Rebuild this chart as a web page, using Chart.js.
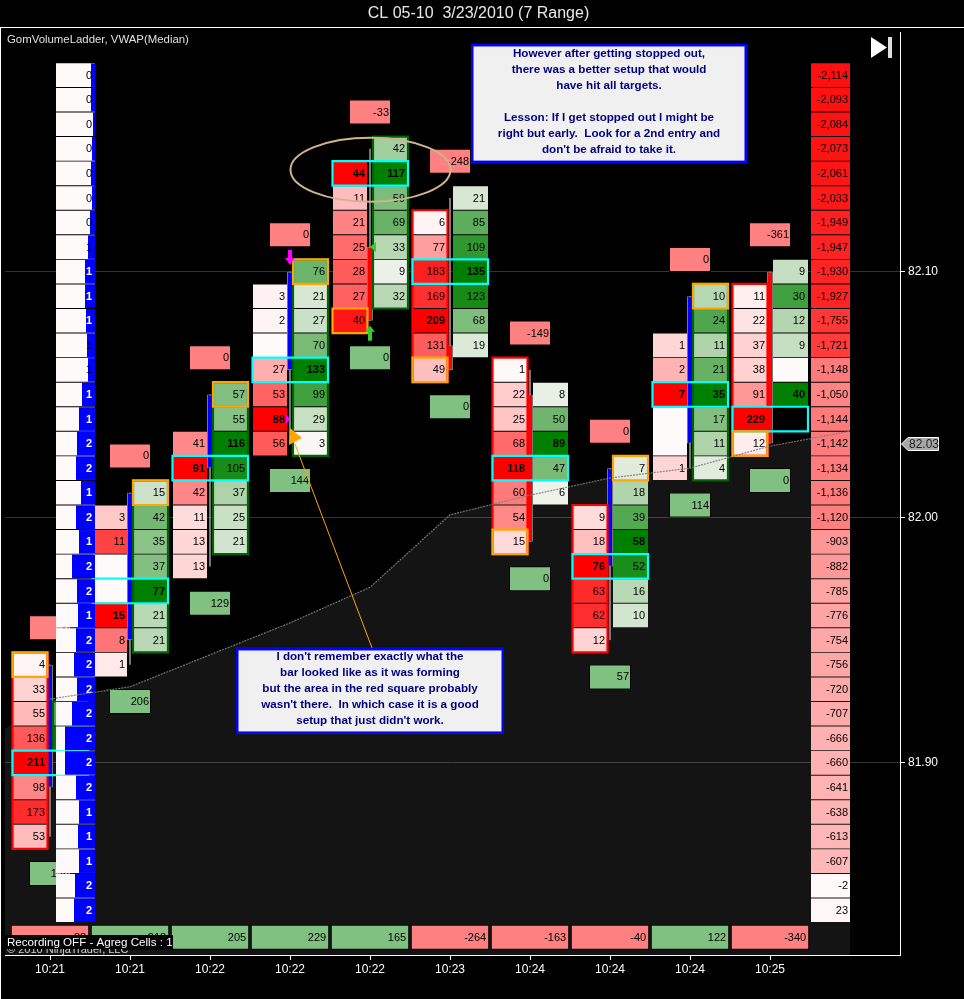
<!DOCTYPE html>
<html>
<head>
<meta charset="utf-8">
<title>CL 05-10 3/23/2010 (7 Range)</title>
<style>
html, body { margin: 0; padding: 0; background: #000; overflow: hidden; }
canvas { display: block; }
</style>
<script src="https://cdn.jsdelivr.net/npm/chart.js@4"></script>
</head>
<body>
<canvas id="out" width="964" height="999"></canvas>
<script>
const barTimes = ["10:21", "10:21", "10:22", "10:22", "10:22", "10:23", "10:24", "10:24", "10:24", "10:25"];
const priceTicks = [82.10, 82.00, 81.90];
const lastPrice = 82.03;

// open / close / high / low per bar
const barOpen = [81.89, 81.95, 82.02, 82.06, 82.11, 82.07, 82.05, 81.98, 82.03, 82.10];
const barClose = [81.94, 82.01, 82.05, 82.10, 82.08, 82.06, 81.99, 82.02, 82.09, 82.03];
const barHigh = [81.94, 82.01, 82.05, 82.10, 82.15, 82.13, 82.06, 82.02, 82.09, 82.10];
const barLow = [81.87, 81.94, 81.98, 82.03, 82.08, 82.06, 81.99, 81.95, 82.02, 82.03];

// volume ladder per bar, first value at the top price of the column, 0 = empty cell
const bidTop = [81.94, 82.00, 82.03, 82.09, 82.14, 82.12, 82.06, 82.00, 82.07, 82.09];
const bidVols = [
    [4, 33, 55, 136, 211, 98, 173, 53],
    [3, 11, 0, 0, 15, 8, 1],
    [41, 91, 42, 11, 13, 13],
    [3, 2, 0, 27, 53, 88, 56],
    [44, 11, 21, 25, 28, 27, 40],
    [6, 77, 183, 169, 209, 131, 49],
    [1, 22, 25, 68, 118, 60, 54, 15],
    [9, 18, 76, 63, 62, 12],
    [1, 2, 7, 0, 0, 1],
    [11, 22, 37, 38, 91, 229, 12]
];
const askTop = [81.92, 82.01, 82.05, 82.10, 82.15, 82.13, 82.05, 82.02, 82.09, 82.10];
const askVols = [
    [120, 180],
    [15, 42, 35, 37, 77, 21, 21],
    [57, 55, 116, 105, 37, 25, 21],
    [76, 21, 27, 70, 133, 99, 29, 3],
    [42, 117, 59, 69, 33, 9, 32],
    [21, 85, 109, 135, 123, 68, 19],
    [8, 50, 89, 47, 6],
    [7, 18, 39, 58, 52, 16, 10],
    [10, 24, 11, 21, 35, 17, 11, 4],
    [9, 30, 12, 9, 0, 40]
];
const pocPrice = [81.90, 81.97, 82.02, 82.06, 82.14, 82.10, 82.02, 81.98, 82.05, 82.04];
const closeSide = ["bid", "ask", "ask", "ask", "bid", "bid", "bid", "ask", "ask", "bid"];
const greenOutlined = [0, 1, 2, 3, 4, 8];
const redOutlined = [0, 5, 6, 7, 9];

// delta boxes above / below each bar and the totals row
const topDelta = [0, 0, 0, 0, -33, -248, -149, 0, 0, -361];
const lowDelta = [136, 206, 129, 144, 0, 0, 0, 57, 114, 0];
const barDelta = [-88, 218, 205, 229, 165, -264, -163, -40, 122, -340];

// left ladder (82.18 down to 81.84)
const ladderTop = 82.18;
const ladderVals = [0, 0, 0, 0, 0, 0, 0, 1, 1, 1, 1, 1, 1, 1, 1, 2, 2, 1, 2, 1, 2, 2, 1, 2, 2, 2, 2, 2, 2, 2, 1, 1, 1, 2, 2];
const ladderDepth = [4, 4, 2, 3, 4, 3, 5, 7, 10, 10, 9, 8, 7, 13, 16, 18, 19, 14, 19, 16, 23, 18, 17, 19, 21, 18, 23, 30, 30, 19, 16, 17, 16, 20, 21];
// right ladder, same prices
const cumDelta = [-2114, -2093, -2084, -2073, -2061, -2033, -1949, -1947, -1930, -1927, -1755, -1721, -1148, -1050, -1144, -1142, -1134, -1136, -1120, -903, -882, -785, -776, -754, -756, -720, -707, -666, -660, -641, -638, -613, -607, -2, 23];

const vwapBars = [-0.5625, 0, 1, 2, 3, 4, 5, 6, 7, 8, 9, 10];
const vwapVals = [81.914, 81.926, 81.931, 81.944, 81.957, 81.9715, 82.001, 82.009, 82.016, 82.020, 82.029, 82.035];

const topNote = ["However after getting stopped out,", "there was a better setup that would", "have hit all targets.", "", "Lesson: If I get stopped out I might be", "right but early.  Look for a 2nd entry and", "don't be afraid to take it."];
const lowNote = ["I don't remember exactly what the", "bar looked like as it was forming", "but the area in the red square probably", "wasn't there.  In which case it is a good", "setup that just didn't work."];

const TICK = 0.01;
const ROW_H = 23.6;
const FONT = '"Liberation Sans"';

function shade(value, max, rgb) {
    const t = max ? Math.min(Math.abs(value) / max, 1) : 0;
    const c = [255, 250, 250].map((b, i) => Math.round(b + (rgb[i] - b) * t));
    return "rgb(" + c.join(",") + ")";
}

function fmt(v) {
    return v.toLocaleString("en-US");
}

// horizontal floating bars, one per item
function rowSet(items, thickness, extra) {
    return Object.assign({
        type: "bar",
        indexAxis: "y",
        grouped: false,
        barThickness: thickness,
        inflateAmount: 0,
        borderSkipped: false,
        borderWidth: 0,
        data: items.map(c => ({ x: [c.from, c.to], y: c.price })),
        backgroundColor: items.map(c => c.fill),
        cellText: items.map(c => c.text || ""),
        cellBold: items.map(c => !!c.bold),
        cellColor: items.map(c => c.color || "#000"),
        textPad: 2
    }, extra);
}

function columnCells(tops, vols, from, to, rgb) {
    const cells = [];
    vols.forEach((list, i) => {
        const max = Math.max(...list);
        list.forEach((v, k) => {
            const price = tops[i] - k * TICK;
            cells.push({ from: i + from, to: i + to, price: price, fill: shade(v, max, rgb), text: v ? String(v) : "", bold: v === max });
            if (v === 0 && list[k + 1] === 0) {
                cells.push({ from: i + from, to: i + to, price: price - TICK / 2, fill: shade(0, max, rgb) });
            }
        });
    });
    return cells;
}

// closed rectangle as a line with gaps, around rows hi..lo
function rectPts(x0, x1, hi, lo) {
    const top = hi + TICK / 2, bot = lo - TICK / 2;
    return [{ x: x0, y: top }, { x: x1, y: top }, { x: x1, y: bot }, { x: x0, y: bot }, { x: x0, y: top }, { x: x1, y: top }, { x: x1, y: null }];
}

function lineSet(points, color, width, extra) {
    return Object.assign({ type: "line", data: points, borderColor: color, borderWidth: width, pointRadius: 0, fill: false, tension: 0, spanGaps: false, borderJoinStyle: "miter", borderCapStyle: "butt" }, extra);
}

const BID_L = -37 / 80, BID_R = -3 / 80, ASK_L = 3 / 80, ASK_R = 38 / 80;

const bidCells = columnCells(bidTop, bidVols, BID_L, BID_R, [255, 0, 0]);
const askCells = columnCells(askTop, askVols, ASK_L, ASK_R, [0, 128, 0]);

const topBoxes = topDelta.map((v, i) => ({ from: i - 0.2625, to: i + 0.2625, price: barHigh[i] + 1.5 * TICK, fill: "#ff8080", text: fmt(v) }));
const lowBoxes = lowDelta.map((v, i) => ({ from: i - 0.2625, to: i + 0.2625, price: barLow[i] - 1.5 * TICK, fill: "#80c080", text: fmt(v) }));
const totalBoxes = barDelta.map((v, i) => ({ from: i - 0.49, to: i + 0.49, price: 81.829, fill: v < 0 ? "#ff8080" : "#80c080", text: fmt(v) }));

const LADDER_L = 0.075, LADDER_R = 0.5625;
const ladderBase = ladderVals.map((v, k) => ({ from: LADDER_L, to: LADDER_R, price: ladderTop - k * TICK, fill: "#fffafa" }));
const ladderBlue = ladderVals.map((v, k) => {
    const strong = ladderDepth[k] >= 9;
    return { from: LADDER_R - ladderDepth[k] / 80, to: LADDER_R, price: ladderTop - k * TICK, fill: "#0000ff", text: String(v), bold: strong, color: strong ? "#fff" : "#000" };
});
const cumCells = cumDelta.map((v, k) => ({ from: 9.5125, to: 10, price: ladderTop - k * TICK, fill: shade(v, 2250, [255, 0, 0]), text: fmt(v) }));

const wicks = [];
barHigh.forEach((h, i) => wicks.push({ x: i, y: h }, { x: i, y: barLow[i] }, { x: i, y: null }));

const upBodies = [], downBodies = [];
barOpen.forEach((o, i) => (barClose[i] > o ? upBodies : downBodies).push({ x: i, y: [o, barClose[i]] }));

const greenRects = greenOutlined.flatMap(i => {
    const list = askVols[i];
    return rectPts(i + 3 / 80, i + 38 / 80, askTop[i], askTop[i] - (list.length - 1) * TICK);
});
const redRects = redOutlined.flatMap(i => {
    const list = bidVols[i];
    return rectPts(i - 37.5 / 80, i - 2.5 / 80, bidTop[i], bidTop[i] - (list.length - 1) * TICK);
});
const pocRects = pocPrice.flatMap((p, i) => rectPts(i - 37.5 / 80, i + 38 / 80, p, p));
const closeRects = closeSide.flatMap((s, i) => s === "ask" ?
    rectPts(i + 3 / 80, i + 38 / 80, barClose[i], barClose[i]) :
    rectPts(i - 37.5 / 80, i - 2.5 / 80, barClose[i], barClose[i]));

function bodySet(points, color) {
    return { type: "bar", grouped: false, barThickness: 6, inflateAmount: 0, borderSkipped: false, borderWidth: 1, borderColor: "#777", backgroundColor: color, data: points };
}

const vwapPoints = vwapBars.map((b, i) => ({ x: b, y: vwapVals[i] }));

// listed bottom to top, reversed below because the first dataset is drawn last
const layers = [
    lineSet(vwapPoints, "transparent", 0, { fill: "start", backgroundColor: "rgba(255,255,255,0.08)" }),
    rowSet(topBoxes, 25, { borderWidth: 1, borderColor: "#000", textPad: 2 }),
    rowSet(lowBoxes, 25, { borderWidth: 1, borderColor: "#000", textPad: 2 }),
    rowSet(bidCells, ROW_H, { textPad: 2 }),
    rowSet(askCells, ROW_H, { textPad: 3 }),
    lineSet(wicks, "#888", 1),
    bodySet(upBodies, "#0000ff"),
    bodySet(downBodies, "#ff0000"),
    lineSet(greenRects, "#006400", 2.2),
    lineSet(redRects, "#ff0000", 2.2),
    lineSet(pocRects, "#00ffff", 2.2),
    lineSet(closeRects, "#ffa500", 2.2),
    rowSet(totalBoxes, 25, { borderWidth: 1, borderColor: "#000", textPad: 3 }),
    rowSet(ladderBase, ROW_H),
    rowSet(ladderBlue, ROW_H, { textPad: 3 }),
    rowSet(cumCells, ROW_H, { textPad: 2 }),
    lineSet(vwapPoints.slice(1), "rgba(125,125,125,0.9)", 1.2, { borderDash: [2, 1] })
];

const cellLabels = {
    id: "cellLabels",
    afterDatasetDraw(chart, args) {
        const ds = chart.data.datasets[args.index];
        if (!ds.cellText) return;
        const ctx = chart.ctx;
        ctx.save();
        ctx.textAlign = "right";
        ctx.textBaseline = "middle";
        args.meta.data.forEach((el, i) => {
            if (!ds.cellText[i]) return;
            ctx.font = (ds.cellBold[i] ? "bold " : "") + "11px " + FONT;
            ctx.fillStyle = ds.cellColor[i];
            ctx.fillText(ds.cellText[i], Math.max(el.x, el.base) - ds.textPad, el.y + 0.5);
        });
        ctx.restore();
    }
};

function poly(ctx, pts, color) {
    ctx.fillStyle = color;
    ctx.beginPath();
    pts.forEach((p, i) => (i ? ctx.lineTo(p[0], p[1]) : ctx.moveTo(p[0], p[1])));
    ctx.closePath();
    ctx.fill();
}

function drawNote(ctx, x, y, lines, x0, y0, x1, y1, firstLine) {
    const left = x.getPixelForValue(x0), right = x.getPixelForValue(x1);
    const top = y.getPixelForValue(y0), bot = y.getPixelForValue(y1);
    ctx.fillStyle = "#f0f0f0";
    ctx.fillRect(left, top, right - left, bot - top);
    ctx.strokeStyle = "#0000ff";
    ctx.lineWidth = 2.5;
    ctx.strokeRect(left + 1.25, top + 1.25, right - left - 2.5, bot - top - 2.5);
    ctx.fillStyle = "#000080";
    ctx.font = 'bold 11.65px ' + FONT;
    ctx.textAlign = "center";
    ctx.textBaseline = "middle";
    lines.forEach((s, i) => ctx.fillText(s, (left + right) / 2, top + firstLine + i * 16));
}

const overlays = {
    id: "overlays",
    afterDatasetsDraw(chart) {
        const ctx = chart.ctx, x = chart.scales.x, y = chart.scales.y;
        const px = b => x.getPixelForValue(b), py = p => y.getPixelForValue(p);
        ctx.save();

        // tan circle round the high
        ctx.strokeStyle = "#d2b48c";
        ctx.lineWidth = 2;
        ctx.beginPath();
        ctx.ellipse(px(4.006), py(82.1415), 1.0 * 80, 32, 0, 0, Math.PI * 2);
        ctx.stroke();

        // arrow from the lower note to the bar
        ctx.strokeStyle = "#ffa500";
        ctx.lineWidth = 1;
        ctx.beginPath();
        ctx.moveTo(px(4.025), py(81.9468));
        ctx.lineTo(px(3.06), py(82.03));
        ctx.stroke();
        const ax = px(3), ay = py(82.0364);
        poly(ctx, [[ax, ay], [ax + 12, ay + 10], [ax - 1, ay + 17]], "#ffa500");

        // entry and stop marks
        const mx = px(3), my = py(82.1027);
        poly(ctx, [[mx - 2, my - 15], [mx + 2, my - 15], [mx + 2, my - 7], [mx + 5, my - 7], [mx, my], [mx - 5, my - 7], [mx - 2, my - 7]], "#ff00ff");
        const gx = px(4), gy = py(82.078);
        poly(ctx, [[gx, gy], [gx + 5, gy + 6], [gx + 2, gy + 6], [gx + 2, gy + 15], [gx - 2, gy + 15], [gx - 2, gy + 6], [gx - 5, gy + 6]], "#33cc33");
        poly(ctx, [[px(3) - 4, py(82.04) - 5], [px(3) - 4, py(82.04) + 5], [px(3), py(82.04)]], "#ff00ff");
        poly(ctx, [[px(4), py(82.11)], [px(4) + 6, py(82.11) - 5], [px(4) + 6, py(82.11) + 5]], "#33cc33");

        drawNote(ctx, x, y, topNote, 5.2625, 82.1927, 8.7125, 82.1442, 9.5);
        drawNote(ctx, x, y, lowNote, 2.325, 81.9468, 5.675, 81.9118, 9);

        // texts on the panel
        ctx.textAlign = "left";
        ctx.textBaseline = "middle";
        ctx.font = "11.4px " + FONT;
        ctx.fillStyle = "#e0e0e0";
        ctx.fillText("GomVolumeLadder, VWAP(Median)", 7, 39.5);

        ctx.font = "11px " + FONT;
        ctx.fillStyle = "#d0d0d0";
        ctx.fillText("© 2010 NinjaTrader, LLC", 7, 950);
        ctx.fillStyle = "#000";
        ctx.fillRect(5, 935, 168, 14);
        ctx.font = "11.6px " + FONT;
        ctx.fillStyle = "#fff";
        ctx.fillText("Recording OFF - Agreg Cells : 1", 7, 942.5);

        // go to last bar button
        poly(ctx, [[871, 37], [871, 58], [887, 47.5]], "#fff");
        ctx.fillStyle = "#ddd";
        ctx.fillRect(888, 37, 4, 21);

        // frame pieces that are not axis lines
        ctx.fillStyle = "#fff";
        ctx.fillRect(0, 27, 964, 1);
        ctx.fillRect(0, 27, 1, 972);
        ctx.fillStyle = "#000";
        ctx.fillRect(899, 28, 3, 4);

        // current price tag
        const ty = Math.round(py(lastPrice));
        ctx.beginPath();
        ctx.moveTo(901.5, ty);
        ctx.lineTo(908, ty - 6.5);
        ctx.lineTo(938.5, ty - 6.5);
        ctx.lineTo(938.5, ty + 6.5);
        ctx.lineTo(908, ty + 6.5);
        ctx.closePath();
        ctx.fillStyle = "#a8a8a8";
        ctx.fill();
        ctx.strokeStyle = "#fff";
        ctx.lineWidth = 1;
        ctx.stroke();
        ctx.font = "12px " + FONT;
        ctx.fillStyle = "#222";
        ctx.fillText(lastPrice.toFixed(2), 909, ty + 0.5);
        ctx.restore();
    }
};

new Chart(document.getElementById("out").getContext("2d"), {
    type: "line",
    plugins: [cellLabels, overlays],
    data: { datasets: layers.reverse() },
    options: {
        responsive: false,
        devicePixelRatio: 1,
        animation: false,
        events: [],
        layout: { padding: { left: 5, right: 12, top: 0, bottom: 0 } },
        plugins: {
            legend: { display: false },
            tooltip: { enabled: false },
            title: {
                display: true,
                text: "CL 05-10  3/23/2010 (7 Range)",
                color: "#e8e8e8",
                font: { family: FONT, size: 16, weight: "normal", lineHeight: 1.2 },
                padding: { top: 4.4, bottom: 4.4 }
            }
        },
        scales: {
            x: {
                type: "linear",
                offset: false,
                min: -0.5625,
                max: 10.625,
                afterBuildTicks: s => { s.ticks = barTimes.map((t, i) => ({ value: i })); },
                afterFit: s => { s.height = 44; },
                border: { color: "#fff", width: 1 },
                grid: { offset: false, drawOnChartArea: false, color: "#fff", tickLength: 5 },
                ticks: {
                    autoSkip: false,
                    maxRotation: 0,
                    padding: 2,
                    color: "#fff",
                    font: { family: FONT, size: 12 },
                    callback: (v, i) => barTimes[i]
                }
            },
            y: {
                type: "linear",
                position: "right",
                offset: false,
                min: 81.8218,
                max: 82.1992,
                afterBuildTicks: s => { s.ticks = priceTicks.map(v => ({ value: v })); },
                afterFit: s => { s.width = 52; },
                border: { color: "#fff", width: 1 },
                grid: { offset: false, color: "#333", tickColor: "#fff", tickLength: 5 },
                ticks: {
                    padding: 3,
                    color: "#fff",
                    font: { family: FONT, size: 12 },
                    callback: v => v.toFixed(2)
                }
            }
        }
    }
});
</script>
</body>
</html>
